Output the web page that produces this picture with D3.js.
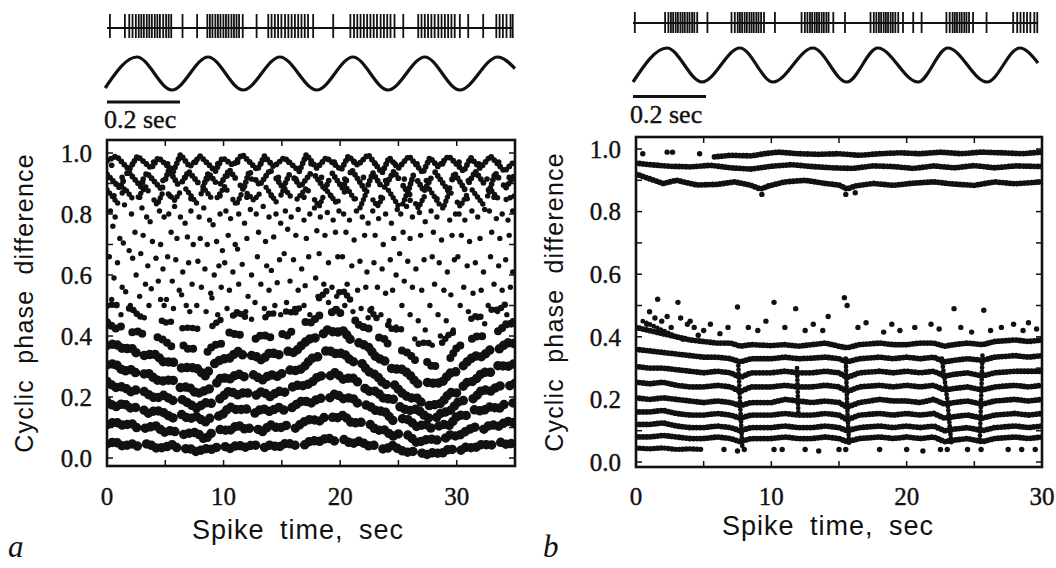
<!DOCTYPE html>
<html>
<head>
<meta charset="utf-8">
<script src="https://d3js.org/d3.v7.min.js"></script>
<style>
  body { margin: 0; background: #fff; }
  svg text { fill: #111; }
</style>
</head>
<body>
<div id="chart"></div>
<script>
// ---------- axes ----------
const xTicksA = [0, 10, 20, 30];
const xMinorA = [0, 5, 10, 15, 20, 25, 30, 35];
const xTicksB = [0, 10, 20, 30];
const xMinorB = [0, 5, 10, 15, 20, 25, 30];
const yTicks = [0, 0.2, 0.4, 0.6, 0.8, 1.0];
const yMinor = [0, 0.1, 0.2, 0.3, 0.4, 0.5, 0.6, 0.7, 0.8, 0.9, 1.0];

// ---------- spike trains (ms from trace start) ----------
const spikesA = [8,49,61,70,79,87,94,101,109,116,123,131,138,145,154,162,169,176,207,247,
  275,282,289,297,304,311,319,326,333,341,348,355,362,372,410,442,451,460,469,478,488,497,506,
  515,524,533,542,551,565,620,667,677,686,695,704,713,722,731,740,750,759,768,777,788,812,
  853,862,871,880,889,898,908,917,926,935,944,953,967,990,1031,1067,1076,1085,1095,1106,1112];
const spikesB = [5,88,97,104,110,117,123,130,136,142,149,155,162,168,176,204,
  270,279,287,293,299,306,312,319,325,331,338,344,351,359,389,
  462,471,478,485,491,498,504,510,517,523,530,536,549,581,
  651,660,667,674,680,687,693,699,706,712,719,727,740,768,791,
  859,868,876,882,888,895,901,908,914,921,932,969,
  1042,1053,1062,1071,1080,1089,1100,1108];

// stimulus extrema (ms, relative level)
const stimTimesA = [-5, 82, 178, 277, 373, 474, 575, 674, 770, 871, 967, 1071, 1118];
const stimLevelsA = [-0.88, 1, -1, 1, -1, 1, -1, 1, -1, 1, -1, 1, 0.3];
const stimTimesB = [0, 93, 189, 293, 384, 493, 586, 671, 781, 863, 970, 1060, 1110];
const stimLevelsB = [-1, 1, -1, 1, -1, 1, -1, 1, -1, 1, -1, 1, 0.12];
const scaleBarMs = 200;

// ---------- panel a : lower phase bands (time sec, phase) ----------
const knotTimesA = [0,0.7,1.4,2.1,2.8,3.5,4.2,4.9,5.6,6.3,7,7.7,8.4,9.1,9.8,10.5,11.2,11.9,12.6,13.3,14,14.7,15.4,16.1,16.8,17.5,18.2,18.9,19.6,20.3,21,21.7,22.4,23.1,23.8,24.5,25.2,25.9,26.6,27.3,28,28.7,29.4,30.1,30.8,31.5,32.2,32.9,33.6,34.3,35];
const bandA1 = [.499,.505,.487,.491,.463,.469,.469,.443,.447,.425,.427,.425,.398,.436,.454,.457,.48,.461,.468,.45,.477,.468,.481,.475,.504,.523,.524,.55,.541,.547,.512,.507,.495,.459,.449,.42,.423,.406,.373,.379,.375,.376,.408,.414,.442,.465,.462,.486,.486,.508,.505];
const bandA2 = [.445,.424,.434,.412,.416,.39,.398,.386,.364,.376,.356,.36,.339,.369,.375,.412,.403,.406,.387,.405,.396,.413,.40,.424,.447,.444,.467,.465,.488,.466,.465,.432,.426,.398,.39,.353,.354,.343,.314,.32,.296,.321,.325,.367,.373,.398,.399,.419,.415,.441,.44];
const bandA3 = [.369,.375,.357,.361,.333,.339,.339,.313,.317,.295,.297,.295,.268,.306,.324,.327,.35,.331,.338,.32,.347,.338,.351,.345,.374,.393,.394,.42,.411,.417,.382,.377,.365,.329,.319,.29,.293,.276,.243,.249,.245,.246,.278,.284,.312,.335,.332,.356,.356,.378,.375];
const bandA4 = [.305,.31,.284,.29,.27,.28,.256,.252,.258,.23,.234,.21,.221,.231,.265,.258,.277,.264,.273,.255,.274,.267,.29,.286,.293,.326,.333,.355,.342,.344,.315,.318,.284,.272,.24,.247,.216,.197,.196,.17,.174,.179,.215,.213,.247,.252,.281,.281,.305,.299,.31];
const bandA5 = [.251,.231,.234,.216,.229,.209,.195,.206,.188,.195,.179,.163,.181,.179,.197,.221,.207,.217,.201,.219,.201,.219,.215,.239,.237,.245,.271,.263,.281,.257,.265,.243,.219,.219,.193,.195,.165,.155,.161,.137,.123,.149,.153,.183,.191,.195,.225,.219,.237,.233,.245];
const bandA6 = [.185,.167,.18,.162,.169,.146,.157,.148,.13,.145,.128,.136,.117,.139,.137,.168,.157,.162,.145,.163,.152,.167,.152,.172,.189,.18,.197,.191,.212,.194,.199,.172,.174,.154,.154,.123,.13,.125,.102,.112,.092,.111,.107,.141,.139,.158,.153,.169,.161,.183,.18];
const bandA7 = [.109,.119,.106,.114,.091,.101,.105,.084,.092,.075,.081,.084,.06,.087,.094,.089,.109,.093,.103,.085,.109,.097,.107,.096,.117,.128,.12,.141,.129,.141,.114,.117,.116,.091,.092,.071,.082,.074,.049,.06,.062,.055,.076,.071,.088,.102,.091,.11,.104,.121,.115];
const bandA8 = [.046,.054,.038,.047,.036,.048,.033,.034,.044,.026,.033,.02,.031,.028,.044,.03,.043,.035,.045,.031,.043,.035,.05,.042,.039,.058,.054,.067,.054,.061,.046,.056,.04,.042,.027,.041,.025,.018,.025,.01,.018,.014,.032,.019,.036,.032,.046,.041,.054,.044,.05];

// ---------- panel a : upper zig-zag streaks (time sec, phase) ----------
const topA1 = [[0,.975],[0.8,.99],[1.9,.945],[2.6,.99],[3.8,.95],[4.4,.985],[5.7,.94],[6.3,.995],[7.1,.955],[8.0,.99],[9.3,.94],[9.9,.985],[10.8,.96],[11.6,.995],[12.9,.945],[13.5,.99],[14.3,.955],[15.2,.985],[16.5,.94],[17.1,.995],[18.0,.95],[18.8,.985],[20.1,.945],[20.7,.99],[21.5,.96],[22.4,.995],[23.6,.935],[24.2,.985],[25.0,.95],[25.9,.99],[27.1,.935],[27.7,.985],[28.4,.955],[29.3,.99],[30.6,.94],[31.2,.985],[32.0,.95],[32.9,.99],[34.1,.94],[35,.975]];
const topA2 = [[0,.93],[1.1,.885],[1.8,.94],[2.9,.89],[3.4,.935],[4.7,.88],[5.3,.945],[6.2,.89],[7.0,.94],[8.2,.885],[8.7,.935],[9.6,.89],[10.5,.945],[11.7,.88],[12.2,.94],[13.1,.895],[14.0,.945],[15.1,.885],[15.7,.935],[16.6,.89],[17.6,.94],[18.7,.88],[19.3,.935],[20.2,.885],[21.0,.945],[22.2,.875],[22.8,.935],[23.7,.88],[24.6,.94],[25.8,.87],[26.3,.93],[27.2,.875],[28.1,.94],[29.3,.875],[29.8,.935],[30.7,.88],[31.6,.94],[32.8,.875],[33.3,.935],[34.2,.885],[35,.93]];
const topA3 = [[0,.88],[0.9,.835],[1.5,.885],[2.4,.84],[3.3,.89],[4.3,.83],[4.9,.88],[5.8,.845],[6.6,.89],[7.7,.835],[8.3,.885],[9.2,.84],[10.1,.89],[11.1,.83],[11.7,.88],[12.6,.845],[13.6,.89],[14.6,.835],[15.2,.885],[16.1,.84],[17.1,.885],[18.2,.825],[18.8,.88],[19.7,.835],[20.6,.885],[21.7,.82],[22.3,.875],[23.2,.825],[24.1,.88],[25.2,.815],[25.8,.875],[26.7,.82],[27.6,.885],[28.8,.815],[29.4,.875],[30.3,.825],[31.2,.885],[32.3,.83],[32.9,.88],[33.8,.84],[35,.86]];
const topDotsA = [
  [0.4,.96],[1.3,.92],[2.2,.965],[3.1,.915],[4.0,.97],[4.8,.91],[5.2,.965],[6.7,.92],[7.6,.97],[8.6,.915],[9.5,.965],[10.3,.925],[11.2,.97],
  [12.4,.915],[13.2,.965],[14.7,.92],[15.6,.97],[16.2,.915],[17.5,.965],[18.4,.92],[19.5,.97],[20.4,.915],[21.2,.97],[22.0,.92],[23.0,.965],
  [23.9,.91],[24.7,.965],[25.5,.915],[26.6,.965],[27.4,.91],[28.8,.965],[29.6,.915],[30.2,.97],[31.0,.91],[31.9,.965],[32.6,.915],[33.6,.97],[34.5,.92],
  [0.6,.86],[2.8,.855],[5.4,.86],[7.2,.85],[9.7,.86],[12.0,.855],[14.1,.86],[16.9,.855],[19.2,.86],[21.3,.85],[23.5,.855],[26.0,.845],[28.3,.85],[30.9,.85],[33.2,.855]
];

// ---------- panel a : scattered spikes in the middle ----------
const dotsA = [
  [0.3,.81],[0.7,.79],[1.5,.83],[2.1,.80],[0.5,.76],[1.1,.72],[1.4,.705],[2.4,.74],[0.2,.66],[0.9,.64],[1.9,.68],[2.2,.655],[0.6,.59],[1.3,.56],[1.6,.545],[2.5,.6],[0.4,.52],[0.8,.5],[2.0,.5],[2.3,.485],[1.2,.47],
  [3.0,.82],[3.4,.79],[3.7,.775],[4.5,.81],[4.9,.79],[3.1,.73],[3.9,.71],[4.6,.7],[2.9,.67],[3.5,.63],[4.2,.655],[4.8,.62],[3.3,.57],[3.8,.555],[4.4,.58],[2.8,.53],[3.6,.5],[4.6,.52],[4.9,.5],[3.2,.46],
  [5.3,.80],[5.8,.825],[6.3,.79],[6.7,.77],[7.2,.81],[5.5,.74],[6.0,.72],[6.9,.725],[7.4,.7],[5.2,.66],[5.9,.65],[6.5,.61],[7.0,.64],[5.6,.58],[6.2,.55],[6.4,.535],[7.3,.57],[5.1,.52],[5.7,.49],[6.8,.5],[7.1,.48],
  [7.9,.79],[8.3,.82],[8.8,.78],[9.1,.765],[9.7,.8],[8.0,.72],[8.6,.7],[9.4,.71],[9.9,.68],[7.8,.645],[8.4,.62],[9.2,.6],[9.6,.63],[8.1,.56],[8.9,.54],[9.0,.525],[9.8,.56],[7.7,.5],[8.5,.48],[9.5,.47],
  [10.2,.81],[10.6,.785],[11.3,.8],[11.8,.77],[12.3,.815],[10.4,.73],[11.0,.7],[11.2,.685],[12.0,.72],[10.1,.64],[10.8,.61],[11.6,.635],[12.4,.6],[10.5,.55],[11.3,.57],[12.1,.53],[10.3,.49],[11.0,.47],[11.9,.48],[12.4,.455],
  [12.8,.8],[13.4,.825],[13.9,.79],[14.5,.8],[14.9,.77],[13.0,.74],[13.6,.71],[14.3,.725],[12.9,.66],[13.7,.63],[14.1,.615],[14.8,.65],[13.2,.57],[13.9,.55],[14.6,.575],[12.7,.51],[13.5,.49],[14.4,.5],[14.9,.47],
  [15.3,.81],[15.8,.79],[16.4,.815],[16.9,.78],[17.4,.8],[15.5,.75],[16.2,.73],[17.1,.72],[15.2,.67],[16.0,.65],[16.7,.62],[17.3,.66],[15.7,.58],[16.4,.55],[17.0,.565],[15.4,.51],[16.1,.49],[16.9,.5],[17.4,.47],
  [17.8,.82],[18.3,.79],[18.9,.805],[19.4,.78],[19.9,.81],[18.0,.745],[18.7,.73],[19.6,.74],[18.2,.67],[19.0,.64],[19.8,.66],[17.9,.59],[18.6,.57],[19.3,.56],[18.1,.53],[19.0,.51],[19.7,.53],
  [20.3,.8],[20.8,.78],[21.4,.81],[21.9,.79],[22.4,.77],[20.5,.74],[21.2,.715],[22.1,.73],[20.2,.66],[21.0,.63],[21.7,.645],[22.3,.61],[20.6,.57],[21.5,.55],[22.2,.56],[20.4,.5],[21.1,.48],[21.8,.49],[22.4,.46],
  [22.8,.81],[23.3,.785],[23.9,.8],[24.4,.77],[24.9,.815],[23.0,.73],[23.7,.7],[24.6,.72],[22.9,.64],[23.6,.62],[24.3,.65],[24.8,.6],[23.2,.56],[23.9,.54],[24.5,.55],[22.7,.49],[23.5,.47],[24.2,.45],[24.8,.43],
  [25.2,.8],[25.7,.825],[26.2,.79],[26.8,.805],[27.3,.775],[25.4,.74],[26.0,.72],[26.9,.73],[25.1,.67],[25.8,.645],[26.5,.62],[27.2,.65],[25.5,.58],[26.2,.56],[27.0,.55],[25.3,.5],[26.0,.47],[26.7,.45],[27.3,.42],[26.4,.39],
  [27.8,.81],[28.3,.79],[28.8,.82],[29.4,.78],[29.9,.8],[28.0,.74],[28.7,.715],[29.6,.73],[27.9,.66],[28.5,.64],[29.2,.61],[29.8,.65],[28.1,.57],[28.9,.55],[29.5,.535],[27.7,.5],[28.4,.47],[29.1,.45],[29.7,.42],[28.6,.4],[27.9,.37],
  [30.2,.8],[30.7,.78],[31.3,.81],[31.8,.79],[32.4,.815],[30.4,.73],[31.1,.71],[32.0,.72],[30.1,.66],[30.9,.63],[31.6,.64],[32.3,.61],[30.6,.56],[31.4,.54],[32.1,.55],[30.3,.5],[31.0,.48],[31.8,.46],[32.4,.44],
  [32.8,.81],[33.4,.785],[33.9,.8],[34.4,.78],[34.8,.81],[33.0,.74],[33.7,.72],[34.5,.73],[32.9,.66],[33.6,.63],[34.2,.65],[34.8,.61],[33.2,.57],[33.9,.55],[34.6,.56],[32.7,.5],[33.5,.48],[34.3,.47],[34.8,.45]
];

// ---------- panel b : phase bands ----------
const bandB1 = [[5.8,.975],[7,.98],[8.5,.978],[9.5,.985],[10.5,.99],[12,.985],[13.5,.983],[15,.985],[16.5,.98],[18,.985],[19.5,.988],[21,.985],[22.5,.99],[24,.985],[25.5,.99],[27,.988],[28.5,.985],[30,.99]];
const bandB2 = [[0,.955],[1,.95],[2.5,.945],[4,.943],[5.5,.948],[7,.94],[8.5,.936],[10,.945],[11.5,.95],[13,.944],[14.5,.94],[16,.938],[17.5,.946],[19,.944],[20.5,.938],[22,.946],[23.5,.94],[25,.947],[26.5,.94],[28,.946],[30,.944]];
const bandB3 = [[0,.92],[1,.905],[2,.89],[3,.9],[4.5,.885],[6,.887],[7.3,.895],[8.5,.884],[9.2,.872],[9.8,.882],[11,.895],[12.5,.9],[14,.89],[15,.885],[15.6,.872],[16.2,.882],[17.5,.89],[19,.884],[20.5,.891],[22,.895],[23.5,.888],[25,.884],[26.5,.895],[28,.889],[30,.895]];

const knotTimesB = [0,1,2,3,4,5,6,7,7.7,8.5,10,11,12,13,14,15,15.6,16.5,18,19,20,21,22,22.8,23.5,24.5,25.6,26.5,28,29,30];
const bandB4 = [.43,.42,.41,.40,.39,.385,.38,.38,.37,.375,.372,.375,.37,.375,.38,.37,.365,.375,.38,.375,.375,.38,.38,.37,.375,.38,.375,.385,.39,.385,.39];
const bandB5 = [.36,.355,.35,.345,.34,.335,.335,.33,.32,.33,.33,.335,.33,.332,.335,.33,.32,.33,.335,.33,.335,.33,.335,.32,.325,.33,.325,.335,.34,.335,.34];
const bandB6 = [.305,.3,.3,.295,.29,.285,.29,.285,.27,.285,.285,.29,.285,.285,.29,.285,.27,.285,.29,.285,.29,.285,.29,.275,.28,.285,.275,.285,.29,.29,.29];
const bandB7 = [.255,.25,.255,.245,.24,.24,.245,.24,.225,.24,.24,.245,.24,.24,.245,.24,.225,.24,.245,.24,.245,.24,.245,.23,.235,.24,.23,.24,.245,.24,.245];
const bandB8 = [.205,.2,.205,.2,.195,.19,.195,.19,.18,.19,.19,.2,.195,.19,.195,.19,.175,.19,.2,.195,.195,.19,.2,.185,.19,.195,.185,.195,.2,.195,.2];
const bandB9 = [.16,.16,.165,.155,.15,.15,.155,.15,.14,.15,.15,.155,.15,.15,.155,.15,.135,.15,.155,.15,.155,.15,.155,.14,.145,.15,.14,.15,.155,.15,.155];
const bandB10 = [.12,.12,.125,.115,.11,.11,.115,.11,.1,.11,.11,.115,.11,.11,.115,.11,.1,.11,.115,.11,.115,.11,.115,.1,.105,.11,.1,.11,.115,.11,.115];
const bandB11 = [.08,.08,.085,.08,.075,.075,.08,.075,.065,.075,.075,.08,.075,.075,.08,.075,.065,.075,.08,.075,.08,.075,.08,.065,.07,.075,.065,.075,.08,.075,.08];
const bandB12 = [[0,.045],[1,.042],[2,.045],[3,.04],[4,.042],[5,.04]];

const streaksB = [
  [[7.55,.32],[7.7,.18],[7.85,.05]],
  [[15.5,.33],[15.6,.18],[15.75,.05]],
  [[22.6,.33],[23.0,.2],[23.3,.06]],
  [[25.6,.34],[25.5,.2],[25.4,.06]],
  [[11.9,.3],[12.0,.15]],
  [[0.5,.45],[2,.42],[3.5,.39]]
];
const dotsB = [
  [1.6,.52],[3.1,.51],[7.5,.495],[10.2,.51],[11.8,.49],[14.2,.465],[13.1,.44],[1.4,.46],[3.3,.46],[4.0,.45],
  [2.6,.43],[4.3,.43],[0.8,.44],[2.0,.41],[15.4,.525],[15.6,.50],[23.5,.49],[25.7,.485],[17.0,.445],[21.8,.44],
  [27.9,.44],[29.0,.445],[19.5,.42],[26.2,.42],[12.5,.42],[9.0,.42],[5.0,.42],[6.2,.41],[18.3,.415],[24.8,.415],[28.6,.42],
  [5.5,.44],[6.8,.43],[8.3,.43],[9.6,.45],[11.0,.43],[13.8,.42],[16.4,.43],[18.9,.44],[20.6,.43],[22.4,.425],[24.0,.43],
  [27.0,.43],[29.6,.425],[1.0,.48],[2.3,.465],[3.8,.44],[4.6,.405],[1.9,.45],
  [6.5,.04],[7.5,.035],[8.0,.04],[10.2,.04],[10.8,.04],[12.5,.04],[13.5,.035],[15,.04],[15.5,.04],[18,.04],[20,.04],
  [21.2,.035],[22.5,.04],[23,.04],[24.5,.04],[25.5,.04],[27.5,.04],[28.5,.04],[29.5,.04],
  [0.5,.985],[2.3,.99],[2.7,.99],[4.7,.985],[9.3,.855],[15.5,.855],[16.2,.86]
];

// ---------- drawing ----------
const svg = d3.select("#chart").append("svg")
  .attr("width", 1056).attr("height", 568)
  .style("background", "#fff");

const serif = "'Liberation Serif', 'Times New Roman', serif";
const sans = "'Liberation Sans', Arial, sans-serif";

function drawPanel(cfg) {
  const x = d3.scaleLinear().domain([0, cfg.xMax]).range([cfg.left, cfg.right]);
  const y = d3.scaleLinear().domain([0, 1]).range([cfg.y0, cfg.y1]);
  const g = svg.append("g");

  svg.append("clipPath").attr("id", "clip-" + cfg.id)
    .append("rect")
    .attr("x", cfg.left).attr("y", cfg.top)
    .attr("width", cfg.right - cfg.left).attr("height", cfg.bottom - cfg.top);
  const plot = g.append("g").attr("clip-path", `url(#clip-${cfg.id})`);

  // frame
  g.append("rect")
    .attr("x", cfg.left).attr("y", cfg.top)
    .attr("width", cfg.right - cfg.left).attr("height", cfg.bottom - cfg.top)
    .attr("fill", "none").attr("stroke", "#111").attr("stroke-width", 2.6);

  // inward ticks on all four sides
  const t = 6;
  cfg.xMinor.forEach(v => {
    g.append("line").attr("x1", x(v)).attr("x2", x(v)).attr("y1", cfg.bottom).attr("y2", cfg.bottom - t)
      .attr("stroke", "#111").attr("stroke-width", 1.5);
    g.append("line").attr("x1", x(v)).attr("x2", x(v)).attr("y1", cfg.top).attr("y2", cfg.top + t)
      .attr("stroke", "#111").attr("stroke-width", 1.5);
  });
  yMinor.forEach(v => {
    g.append("line").attr("x1", cfg.left).attr("x2", cfg.left + t).attr("y1", y(v)).attr("y2", y(v))
      .attr("stroke", "#111").attr("stroke-width", 1.5);
    g.append("line").attr("x1", cfg.right).attr("x2", cfg.right - t).attr("y1", y(v)).attr("y2", y(v))
      .attr("stroke", "#111").attr("stroke-width", 1.5);
  });

  // tick labels
  g.selectAll(".xl").data(cfg.xTicks).enter().append("text")
    .attr("x", d => x(d)).attr("y", 505)
    .attr("text-anchor", "middle")
    .style("font-family", serif).style("font-size", "25px")
    .style("stroke", "#111").style("stroke-width", "0.4px")
    .text(d => d);
  g.selectAll(".yl").data(yTicks).enter().append("text")
    .attr("x", cfg.left - 15).attr("y", d => y(d)).attr("dy", "0.35em")
    .attr("text-anchor", "end")
    .style("font-family", serif).style("font-size", "25px")
    .style("stroke", "#111").style("stroke-width", "0.4px")
    .text(d => d3.format(".1f")(d));

  // axis titles
  g.append("text")
    .attr("x", cfg.titleX).attr("y", cfg.titleY)
    .attr("text-anchor", "middle")
    .style("font-family", sans).style("font-size", "27px")
    .style("letter-spacing", "1px").style("word-spacing", "7px")
    .text("Spike time, sec");
  g.append("text")
    .attr("transform", `translate(${cfg.yTitleX},${(cfg.top + cfg.bottom) / 2}) rotate(-90)`)
    .attr("text-anchor", "middle")
    .style("font-family", sans).style("font-size", "25px")
    .style("letter-spacing", "1.2px").style("word-spacing", "7px")
    .text("Cyclic phase difference");

  // panel letter
  g.append("text")
    .attr("x", cfg.letterX).attr("y", 557)
    .style("font-family", serif).style("font-style", "italic").style("font-size", "31px")
    .text(cfg.id);

  // spike train
  const tx = d3.scaleLinear().domain([0, 1110]).range([cfg.trainLeft, cfg.trainRight]);
  g.append("line")
    .attr("x1", tx(0)).attr("x2", tx(1110)).attr("y1", cfg.trainY).attr("y2", cfg.trainY)
    .attr("stroke", "#111").attr("stroke-width", 2);
  g.selectAll(".spk").data(cfg.spikes).enter().append("line")
    .attr("x1", d => tx(d)).attr("x2", d => tx(d))
    .attr("y1", cfg.trainY - cfg.spikeUp).attr("y2", cfg.trainY + cfg.spikeDown)
    .attr("stroke", "#111").attr("stroke-width", 1.8);

  // stimulus
  const sy = d3.scaleLinear().domain([-1, 1]).range([cfg.stimLow, cfg.stimHigh]);
  const stim = d3.zip(cfg.stimTimes, cfg.stimLevels);
  g.append("path")
    .attr("d", d3.line().x(d => tx(d[0])).y(d => sy(d[1])).curve(d3.curveMonotoneX)(stim))
    .attr("fill", "none").attr("stroke", "#111").attr("stroke-width", 3.2);

  // scale bar
  g.append("line")
    .attr("x1", tx(0)).attr("x2", tx(scaleBarMs)).attr("y1", cfg.barY).attr("y2", cfg.barY)
    .attr("stroke", "#111").attr("stroke-width", 3.2);
  g.append("text")
    .attr("x", tx(0) - 3).attr("y", cfg.barY + 26)
    .style("font-family", serif).style("font-size", "26px")
    .style("stroke", "#111").style("stroke-width", "0.4px")
    .text("0.2 sec");

  return { x, y, plot };
}

// a run of spikes drawn as a row of touching dots
function beads(plot, pts, x, y, width, dash) {
  plot.append("path")
    .attr("d", d3.line().x(d => x(d[0])).y(d => y(d[1]))(pts))
    .attr("fill", "none").attr("stroke", "#111")
    .attr("stroke-width", width)
    .attr("stroke-linecap", "round")
    .attr("stroke-dasharray", dash);
}

function dots(plot, pts, x, y, r) {
  plot.selectAll(null).data(pts).enter().append("circle")
    .attr("cx", d => x(d[0])).attr("cy", d => y(d[1])).attr("r", r)
    .attr("fill", "#111");
}

// panel a
const pa = drawPanel({
  id: "a", xMax: 35, left: 107, right: 515, top: 140, bottom: 466, y0: 458, y1: 153,
  xTicks: xTicksA, xMinor: xMinorA, titleX: 298, titleY: 539, yTitleX: 33, letterX: 8,
  spikes: spikesA, trainLeft: 107, trainRight: 512, trainY: 28, spikeUp: 14, spikeDown: 10,
  stimTimes: stimTimesA, stimLevels: stimLevelsA, stimLow: 90, stimHigh: 57, barY: 102
});
beads(pa.plot, d3.zip(knotTimesA, bandA1), pa.x, pa.y, 6.5, "0 5 0 5 0 14 0 5 0 5 0 5 0 24");
beads(pa.plot, d3.zip(knotTimesA, bandA2), pa.x, pa.y, 8, "0 5.5 0 5.5 0 5.5 0 14 0 5.5 0 5.5 0 18");
[bandA3, bandA4, bandA5, bandA6, bandA7, bandA8].forEach(b =>
  beads(pa.plot, d3.zip(knotTimesA, b), pa.x, pa.y, 9.5, "0 5.5 0 5.5 0 5.5 0 5.5 0 5.5 0 5.5 0 10"));
beads(pa.plot, topA1, pa.x, pa.y, 5.8, "0 4.4");
beads(pa.plot, topA2, pa.x, pa.y, 5.8, "0 4.4 0 4.4 0 4.4 0 4.4 0 4.4 0 4.4 0 9");
beads(pa.plot, topA3, pa.x, pa.y, 5.4, "0 4.4 0 4.4 0 4.4 0 4.4 0 11");
dots(pa.plot, topDotsA, pa.x, pa.y, 2.8);
dots(pa.plot, dotsA, pa.x, pa.y, 2.7);

// panel b
const pb = drawPanel({
  id: "b", xMax: 30, left: 636, right: 1042, top: 137, bottom: 467, y0: 462, y1: 149,
  xTicks: xTicksB, xMinor: xMinorB, titleX: 828, titleY: 535, yTitleX: 563, letterX: 543,
  spikes: spikesB, trainLeft: 633, trainRight: 1038, trainY: 23, spikeUp: 11, spikeDown: 10,
  stimTimes: stimTimesB, stimLevels: stimLevelsB, stimLow: 82, stimHigh: 48, barY: 96.5
});
[bandB1, bandB2, bandB3].forEach(b => beads(pb.plot, b, pb.x, pb.y, 5.8, "0 3.6"));
[bandB4, bandB5, bandB6, bandB7, bandB8, bandB9, bandB10, bandB11].forEach(b =>
  beads(pb.plot, d3.zip(knotTimesB, b), pb.x, pb.y, 5.8, "0 3.6"));
beads(pb.plot, bandB12, pb.x, pb.y, 5.4, "0 3.6");
streaksB.forEach(s => beads(pb.plot, s, pb.x, pb.y, 4.8, "0 4"));
dots(pb.plot, dotsB, pb.x, pb.y, 2.7);
</script>
</body>
</html>
